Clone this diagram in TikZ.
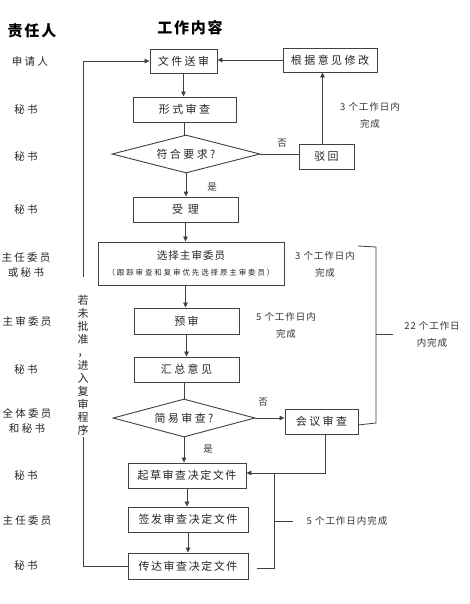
\documentclass[tikz,border=0pt]{standalone}
\usepackage{fontspec}
\setmainfont{Noto Sans CJK SC}
\newfontfamily\cjkA[LetterSpace=22]{Noto Sans CJK SC}
\newfontfamily\cjkD[LetterSpace=14]{Noto Sans CJK SC}
\newfontfamily\cjkB[LetterSpace=10]{Noto Sans CJK SC}
\newfontfamily\cjkC[LetterSpace=12]{Noto Sans CJK SC}
\newfontfamily\cjkE[LetterSpace=25]{Noto Sans CJK SC}
\usetikzlibrary{shapes.geometric,arrows.meta}
\begin{document}
\begin{tikzpicture}[x=1pt,y=-1pt,
  box/.style={draw=black!75, line width=0.9pt, fill=white, minimum height=25pt, inner sep=0pt, text=black!85, font=\cjkA\fontsize{11}{13}\selectfont},
  longbox/.style={box, font=\cjkD\fontsize{11}{13}\selectfont},
  dia/.style={diamond, draw=black!75, line width=0.9pt, fill=white, inner sep=0pt, aspect=3.8, minimum height=38pt, text=black!85, font=\cjkA\fontsize{11}{13}\selectfont},
  role/.style={font=\cjkA\fontsize{10.5}{15}\selectfont, align=center, text=black!85},
  title/.style={font=\cjkC\bfseries\fontsize{15}{18}\selectfont},
  note/.style={font=\cjkB\fontsize{9.5}{17}\selectfont, align=center, text=black!80},
  ln/.style={line width=0.8pt, draw=black!75},
  arr/.style={ln, -{Triangle[length=5pt,width=4.5pt]}},
]
\useasboundingbox[fill=white] (0,0) rectangle (469,604);

% titles
\node[title] (h1) at (32,31) {责任人};
\node[title] (h2) at (190,28) {工作内容};

% roles
\node[role] (p1) at (30,62) {申请人};
\node[role] (p2) at (26,110) {秘书};
\node[role] (p3) at (26,157) {秘书};
\node[role] (p4) at (26,210) {秘书};
\node[role] (p5) at (26,265.5) {主任委员\\或秘书};
\node[role] (p6) at (27,321) {主审委员};
\node[role] (p7) at (26,370) {秘书};
\node[role] (p8) at (27,420.5) {全体委员\\和秘书};
\node[role] (p9) at (26,476) {秘书};
\node[role] (p10) at (27,521) {主任委员};
\node[role] (p11) at (26,566) {秘书};

% main flow
\node[box, minimum width=67pt, minimum height=24pt] (b1) at (183.5,61) {文件送审};
\node[box, minimum width=103pt] (b2) at (184.5,109.5) {形式审查};
\node[dia, minimum width=148pt] (d1) at (186,154) {符合要求?};
\node[box, minimum width=105pt] (b3) at (185.5,209.5) {受\ 理};
\node[box, minimum width=186pt, minimum height=43pt, align=center] (b4) at (191,263.5)
  {{\cjkB\fontsize{10.5}{12}\selectfont 选择主审委员}\\[3pt]{\cjkE\fontsize{7.5}{9}\selectfont （跟踪审查和复审优先选择原主审委员）}};
\node[box, minimum width=105pt, minimum height=26pt] (b5) at (186.5,321) {预审};
\node[box, minimum width=105pt] (b6) at (186.5,369.5) {汇总意见};
\node[dia, minimum width=142pt] (d2) at (184,418) {简易审查?};
\node[box, minimum width=73pt] (b7) at (321.5,421.5) {会议审查};
\node[longbox, minimum width=118pt] (b8) at (187,475.5) {起草审查决定文件};
\node[longbox, minimum width=120pt] (b9) at (188,519.5) {签发审查决定文件};
\node[longbox, minimum width=120pt, minimum height=26pt] (b10) at (188,566) {传达审查决定文件};

% right side
\node[box, minimum width=94pt, minimum height=24pt] (r1) at (330,60) {根据意见修改};
\node[box, minimum width=55pt] (r2) at (326.5,156.5) {驳回};

% labels
\node[note] (yes1) at (212,187) {是};
\node[note] (no1) at (282,143) {否};
\node[note] (yes2) at (208,449) {是};
\node[note] (no2) at (263,402) {否};
\node[note] (n1) at (370,115.5) {3 个工作日内\\完成};
\node[note] (n2) at (325,264) {3 个工作日内\\完成};
\node[note] (n3) at (286,325.5) {5 个工作日内\\完成};
\node[note] (n4) at (432,334) {22 个工作日\\内完成};
\node[note] (n5) at (347,521) {5 个工作日内完成};
\node[font=\fontsize{11}{13}\selectfont, align=center, text=black!85] (vt) at (83,365)
  {若\\未\\批\\准\\，\\进\\入\\复\\审\\程\\序};

% main connectors
\draw[arr] (b1.south) -- (b1.south |- b2.north);
\draw[ln] (b2.south) -- (b2.south |- d1.north);
\draw[arr] (d1.south) -- (d1.south |- b3.north);
\draw[arr] (b3.south) -- (b3.south |- b4.north);
\draw[arr] (b4.south -| b3.south) -- (b3.south |- b5.north);
\draw[arr] (b5.south) -- (b5.south |- b6.north);
\draw[ln] (b6.south -| d2.north) -- (d2.north);
\draw[arr] (d2.south) -- (d2.south |- b8.north);
\draw[arr] (b8.south) -- (b8.south |- b9.north);
\draw[arr] (b9.south) -- (b9.south |- b10.north);

% right connectors
\draw[ln] (d1.east) -- (d1.east -| r2.west);
\draw[arr] ([xshift=-4pt]r2.north) -- ([xshift=-4pt]r2.north |- r1.south);
\draw[arr] (r1.west) -- (r1.west -| b1.east);
\draw[arr] (d2.east) -- (d2.east -| b7.west);
\coordinate (k1) at (325,473);
\draw[arr] (b7.south -| k1) -- (k1) -- (k1 -| b8.east);

% loop back
\coordinate (L1) at (83,437);
\coordinate (L2) at (83,277);
\draw[ln] (b10.west) -| (L1);
\draw[arr] (L2) |- (b1.west);

% brace 22 days
\coordinate (c1) at (358,246);
\coordinate (c2) at (376,247);
\coordinate (c3) at (376,423);
\coordinate (c4) at (358,425);
\coordinate (c5) at (393,334);
\draw[ln] (c1) -- (c2) -- (c3) -- (c4);
\draw[ln] (c2 |- c5) -- (c5);

% brace 5 days
\coordinate (e1) at (274,473);
\coordinate (e2) at (274,568);
\coordinate (e3) at (257,568);
\coordinate (e4) at (293,521);
\draw[ln] (e1) -- (e2) -- (e3);
\draw[ln] (e1 |- e4) -- (e4);
\end{tikzpicture}
\end{document}
